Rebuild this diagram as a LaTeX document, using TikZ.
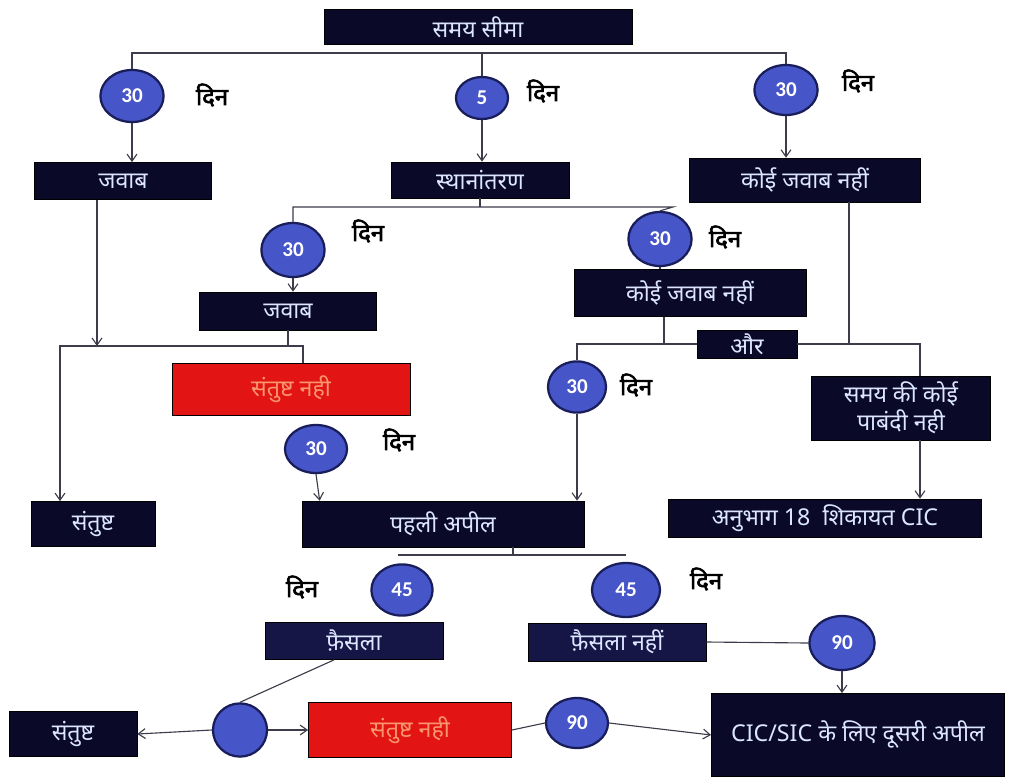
\documentclass[tikz,border=0pt]{standalone}
\usepackage{fontspec}
\setmainfont{Noto Sans}
\newfontfamily\hindi[Script=Devanagari]{Noto Sans}
\newfontfamily\hindibold[Script=Devanagari, FakeBold=2.5]{Noto Sans}
\newfontfamily\numfont{Carlito}
\usetikzlibrary{shapes.geometric, arrows.meta, calc}

\definecolor{navy}{RGB}{10,10,40}
\definecolor{navylight}{RGB}{22,22,70}
\definecolor{boxtext}{RGB}{220,230,255}
\definecolor{boxred}{RGB}{226,20,20}
\definecolor{redtext}{RGB}{250,150,110}
\definecolor{dayblue}{RGB}{70,85,200}
\definecolor{ringblue}{RGB}{25,30,90}
\definecolor{linegray}{RGB}{60,60,75}

\begin{document}
\begin{tikzpicture}[
    x=0.025cm, y=-0.025cm,
    >={Straight Barb[length=5pt, width=7pt]},
    link/.style={draw=linegray, line width=0.8pt},
    box/.style={rectangle, draw=black, fill=navy, text=boxtext, inner sep=0pt, align=center, font=\hindi\fontsize{16.5}{20}\selectfont},
    redbox/.style={box, fill=boxred, text=redtext},
    days/.style={ellipse, draw=ringblue, line width=1.6pt, fill=dayblue, text=white, inner sep=0pt, font=\numfont\bfseries\fontsize{15}{15}\selectfont},
    din/.style={font=\hindibold\fontsize{17}{17}\selectfont}
]
    \useasboundingbox (0,0) rectangle (1012,778);

    % Time limit
    \node[box, minimum width=7.7cm, minimum height=0.88cm] (limit) at (478,27) {समय सीमा};

    % First level
    \node[days, minimum width=1.58cm, minimum height=1.3cm] (c1) at (132,96) {30};
    \node[din] (d1) at (212,95) {दिन};
    \node[days, minimum width=1.3cm, minimum height=1.05cm] (c2) at (482,98) {5};
    \node[din] (d2) at (543,91) {दिन};
    \node[days, minimum width=1.58cm, minimum height=1.25cm] (c3) at (786,90) {30};
    \node[din] (d3) at (858,81) {दिन};

    \node[box, minimum width=4.43cm, minimum height=0.93cm] (jawab1) at (123,181) {जवाब};
    \node[box, minimum width=4.45cm, minimum height=0.9cm] (sthan) at (480,180) {स्थानांतरण};
    \node[box, minimum width=5.78cm, minimum height=1.1cm] (nojawab1) at (805,180) {कोई जवाब नहीं};

    % After transfer
    \node[days, minimum width=1.58cm, minimum height=1.35cm] (c4) at (293,250) {30};
    \node[din] (d4) at (368,231) {दिन};
    \node[days, minimum width=1.58cm, minimum height=1.35cm] (c5) at (660,239) {30};
    \node[din] (d5) at (725,237) {दिन};

    \node[box, minimum width=4.43cm, minimum height=0.95cm] (jawab2) at (288,311) {जवाब};
    \node[box, minimum width=5.8cm, minimum height=1.18cm] (nojawab2) at (690,293) {कोई जवाब नहीं};
    \node[box, minimum width=2.5cm, minimum height=0.7cm] (aur) at (747,344) {और};

    \node[redbox, minimum width=5.95cm, minimum height=1.3cm] (red1) at (291,389) {संतुष्ट नही};
    \node[days, minimum width=1.45cm, minimum height=1.28cm] (c6) at (577,387) {30};
    \node[din] (d6) at (636,385) {दिन};
    \node[box, minimum width=4.48cm, minimum height=1.6cm] (nolimit) at (901,408) {समय की कोई\\पाबंदी नही};

    \node[days, minimum width=1.55cm, minimum height=1.2cm] (c7) at (316,449) {30};
    \node[din] (d7) at (399,440) {दिन};

    % Satisfied / first appeal
    \node[box, minimum width=3.1cm, minimum height=1.13cm] (santusht1) at (93,524) {संतुष्ट};
    \node[box, minimum width=7.05cm, minimum height=1.15cm] (pahli) at (443,524) {पहली अपील};
    \node[box, minimum width=7.83cm, minimum height=0.95cm] (sec18) at (825,518) {अनुभाग 18\ \ शिकायत CIC};

    % Decision
    \node[din] (d8) at (302,587) {दिन};
    \node[days, minimum width=1.53cm, minimum height=1.28cm] (c8) at (402,590) {45};
    \node[days, minimum width=1.7cm, minimum height=1.35cm] (c9) at (626,590) {45};
    \node[din] (d9) at (706,579) {दिन};

    \node[box, fill=navylight, minimum width=4.45cm, minimum height=0.93cm] (faisla) at (354,641) {फ़ैसला};
    \node[box, fill=navylight, minimum width=4.45cm, minimum height=0.95cm] (nofaisla) at (617,642) {फ़ैसला नहीं};
    \node[days, minimum width=1.63cm, minimum height=1.35cm] (c10) at (842,643) {90};

    % Second appeal
    \node[box, minimum width=3.2cm, minimum height=1.13cm] (santusht2) at (73,734) {संतुष्ट};
    \node[days, minimum width=1.35cm, minimum height=1.33cm] (c11) at (240,730) {};
    \node[redbox, minimum width=5.08cm, minimum height=1.38cm] (red2) at (410,730) {संतुष्ट नही};
    \node[days, minimum width=1.55cm, minimum height=1.25cm] (c12) at (577,723) {90};
    \node[box, minimum width=7.33cm, minimum height=2.08cm] (second) at (858,735) {CIC/SIC के लिए दूसरी अपील};

    % Connections
    % Top branches
    \coordinate (topbus) at (786,53);
    \draw[link] (c1.north) |- (topbus) -- (c3.north);
    \draw[link] (c2.north) -- (c2.north |- topbus);
    \draw[link, ->] (c1.south) -- (c1.south |- jawab1.north);
    \draw[link, ->] (c2.south) -- (c2.south |- sthan.north);
    \draw[link, ->] (c3.south) -- (c3.south |- nojawab1.north);

    % Transfer branches
    \coordinate (sthanbus) at (673,207);
    \draw[link] (sthan.south) -- (sthan.south |- sthanbus);
    \draw[link] (c4.north) |- (sthanbus) -- (c5.north);
    \draw[link, ->] (c4.south) -- (c4.south |- jawab2.north);
    \draw[link] (c5.south) -- (c5.south |- nojawab2.north);

    % Answer -> satisfied / not satisfied
    \coordinate (jawabbus) at (60,346);
    \draw[link, ->] ($(jawab1.south)+(-26,0)$) coordinate (jd) -- (jd |- jawabbus);
    \draw[link] (jawab2.south) -- (jawab2.south |- jawabbus);
    \draw[link, ->] ($(red1.north)+(12,0)$) |- (jawabbus) -- (jawabbus |- santusht1.north);
    \draw[link, ->] (c7.south) -- ($(pahli.north west)+(18,0)$);

    % No answer -> and
    \draw[link] (c6.north) |- (aur.west);
    \draw[link] ($(nojawab2.south)+(-26,0)$) coordinate (nd) -- (nd |- aur.west);
    \draw[link] ($(nojawab1.south)+(44,0)$) coordinate (nr) -- (nr |- aur.east);
    \draw[link] (aur.east) -| ($(nolimit.north)+(19,0)$);
    \draw[link, ->] (c6.south) -- (c6.south |- pahli.north);
    \draw[link, ->] ($(nolimit.south)+(19,0)$) coordinate (ld) -- (ld |- sec18.north);

    % First appeal
    \coordinate (pbusL) at (398,555);
    \coordinate (pbusR) at (626,555);
    \draw[link] (pbusL) -- (pbusR);
    \draw[link] ($(pahli.south)+(70,0)$) coordinate (pd) -- (pd |- pbusL);

    % Decision -> second appeal
    \draw[link] ($(faisla.south)+(-20,0)$) -- (c11.north);
    \draw[link, ->] (c11.west) -- (santusht2.east);
    \draw[link, ->] (c11.east) -- (red2.west);
    \draw[link] (red2.east) -- (c12.west);
    \draw[link, ->] (c12.east) -- (second.west);
    \draw[link] (nofaisla.east) -- (c10.west);
    \draw[link, ->] (c10.south) -- (c10.south |- second.north);

\end{tikzpicture}
\end{document}
